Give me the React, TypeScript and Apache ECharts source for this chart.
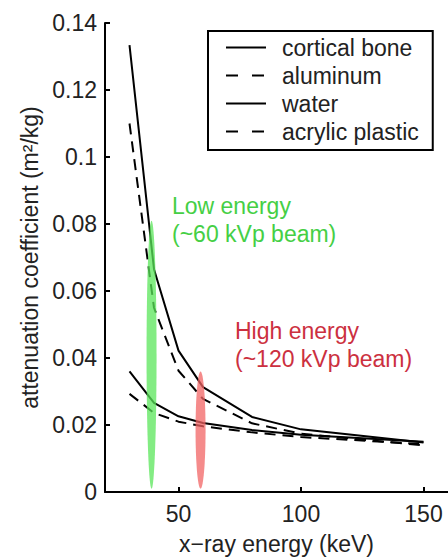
import React, { useEffect, useRef } from "react";
import * as echarts from "echarts";

// x-ray energies (keV)
const energies = [30, 40, 50, 60, 80, 100, 150];
// mass attenuation coefficients (m^2/kg)
const corticalBone = [0.1334, 0.0665, 0.0422, 0.0313, 0.0224, 0.0187, 0.0148];
const aluminum = [0.110, 0.055, 0.0362, 0.0278, 0.0205, 0.0174, 0.0139];
const water = [0.036, 0.0266, 0.0226, 0.0206, 0.0185, 0.0171, 0.015];
const acrylicPlastic = [0.0293, 0.0236, 0.021, 0.0196, 0.0178, 0.0164, 0.0143];

const seriesNames = ["cortical bone", "aluminum", "water", "acrylic plastic"];
const xTicks = [50, 100, 150];

// effective beam energy bands: [energy (keV), bottom, top]
const beamBands = [
  [39, 0.001, 0.081],
  [59, 0.001, 0.036],
];

const FONT = "'Liberation Sans', Arial, Helvetica, sans-serif";

function pairs(ys: number[]) {
  return energies.map((e, i) => [e, ys[i]]);
}

export default function App() {
  const ref = useRef<HTMLDivElement>(null);
  useEffect(() => {
    if (!ref.current) return;
    const chart = echarts.init(ref.current, undefined, { renderer: "svg" });
    const solid = { color: "#000", width: 2, type: "solid" as const };
    const dashed = { color: "#000", width: 2, type: [11, 7] as any };
    const mk = (name: string, ys: number[], ls: any) => ({
      name,
      type: "line",
      data: pairs(ys),
      symbol: "none",
      showSymbol: false,
      color: "#000",
      lineStyle: ls,
      z: 2,
    });
    const bandColors = ["rgba(90,230,90,0.75)", "rgba(242,100,100,0.75)"];
    const legendDash = { type: [12, 14] as any };
    const option: any = {
      animation: false,
      textStyle: { fontFamily: FONT },
      grid: { left: 105, top: 23, width: 346, height: 475 },
      xAxis: {
        type: "value",
        min: 20,
        max: 160,
        name: "x\u2212ray energy (keV)",
        nameLocation: "middle",
        nameGap: 40,
        nameTextStyle: { fontSize: 23, color: "#222", fontFamily: FONT },
        axisLine: { show: true, onZero: false, lineStyle: { color: "#000", width: 2 } },
        axisTick: {
          show: true,
          inside: true,
          length: 5,
          customValues: xTicks,
          lineStyle: { color: "#000", width: 2 },
        },
        axisLabel: { customValues: xTicks, fontSize: 23, color: "#222", margin: 10, fontFamily: FONT },
        splitLine: { show: false },
      },
      yAxis: {
        type: "value",
        min: 0,
        max: 0.14,
        interval: 0.02,
        name: "attenuation coefficient (m\u00b2/kg)",
        nameLocation: "middle",
        nameGap: 63,
        nameTextStyle: { fontSize: 23, color: "#222", fontFamily: FONT },
        axisLine: { show: true, lineStyle: { color: "#000", width: 2 } },
        axisTick: { show: true, inside: true, length: 5, lineStyle: { color: "#000", width: 2 } },
        axisLabel: { fontSize: 23, color: "#222", margin: 8, fontFamily: FONT },
        splitLine: { show: false },
      },
      legend: {
        data: [
          { name: seriesNames[0] },
          { name: seriesNames[1], lineStyle: legendDash },
          { name: seriesNames[2] },
          { name: seriesNames[3], lineStyle: legendDash },
        ],
        orient: "vertical",
        left: 208,
        top: 31,
        backgroundColor: "#fff",
        borderColor: "#000",
        borderWidth: 2,
        borderRadius: 0,
        padding: [5, 14, 7, 17],
        itemWidth: 40,
        itemHeight: 14,
        itemGap: 5,
        itemStyle: { opacity: 0, color: "rgba(0,0,0,0)", borderWidth: 0 },
        textStyle: { fontSize: 23, color: "#222", fontFamily: FONT, padding: [0, 0, 0, 11] },
      },
      series: [
        mk(seriesNames[0], corticalBone, solid),
        mk(seriesNames[1], aluminum, dashed),
        mk(seriesNames[2], water, solid),
        mk(seriesNames[3], acrylicPlastic, dashed),
        {
          type: "custom",
          z: 5,
          silent: true,
          data: beamBands,
          renderItem: (params: any, api: any) => {
            const p1 = api.coord([api.value(0), api.value(1)]);
            const p2 = api.coord([api.value(0), api.value(2)]);
            return {
              type: "ellipse",
              shape: { cx: p1[0], cy: (p1[1] + p2[1]) / 2, rx: 5, ry: Math.abs(p1[1] - p2[1]) / 2 },
              style: { fill: bandColors[params.dataIndex] },
            };
          },
        },
      ],
      graphic: [
        {
          type: "text",
          left: 172,
          top: 192,
          style: {
            text: "Low energy\n(~60 kVp beam)",
            fill: "#45cf45",
            font: `23px ${FONT}`,
            lineHeight: 28,
          },
        },
        {
          type: "text",
          left: 235,
          top: 317,
          style: {
            text: "High energy\n(~120 kVp beam)",
            fill: "#cc3040",
            font: `23px ${FONT}`,
            lineHeight: 28,
          },
        },
      ],
    };
    chart.setOption(option);
    return () => chart.dispose();
  }, []);
  return (
    <div
      ref={ref}
      style={{ position: "fixed", left: 0, top: 0, width: 448, height: 560, background: "#fff" }}
    />
  );
}
